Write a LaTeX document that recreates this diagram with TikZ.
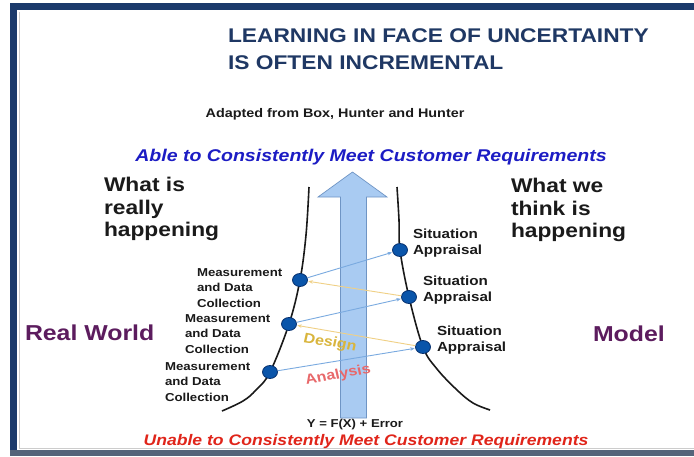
\documentclass[tikz,border=0pt]{standalone}
\usepackage{fontspec}
\setmainfont{Liberation Sans}
\usetikzlibrary{shapes.geometric,arrows.meta}
\definecolor{framenavy}{HTML}{1B3A6B}
\definecolor{framegray}{HTML}{55647A}
\definecolor{titleblue}{HTML}{1F3864}
\definecolor{ableblue}{HTML}{1C1CC4}
\definecolor{unablered}{HTML}{E0251A}
\definecolor{worldpurple}{HTML}{5C1C5E}
\definecolor{dotfill}{HTML}{0A55AA}
\definecolor{dotedge}{HTML}{06306E}
\definecolor{shaftfill}{HTML}{A9CBF2}
\definecolor{shaftedge}{HTML}{6F95C5}
\definecolor{linkblue}{HTML}{7AAAE0}
\definecolor{linkyellow}{HTML}{F0D085}
\definecolor{designgold}{HTML}{D9B53C}
\definecolor{analysisred}{HTML}{E8686A}
\definecolor{inktext}{HTML}{1A1A1A}
\tikzset{
  txt/.style={inner sep=0pt, outer sep=0pt, xscale=1.15, text=inktext},
  titletxt/.style={txt, font=\bfseries\fontsize{19.8}{24}\selectfont, text=titleblue, anchor=base west},
  bigtxt/.style={txt, font=\bfseries\fontsize{19.8}{22.7}\selectfont, align=left, anchor=west},
  worldtxt/.style={txt, font=\bfseries\fontsize{21.6}{26}\selectfont, text=worldpurple, anchor=base west},
  mdc/.style={txt, font=\bfseries\fontsize{11.5}{15.5}\selectfont, align=left, anchor=west},
  sit/.style={txt, font=\bfseries\fontsize{13.2}{16.5}\selectfont, align=left, anchor=west},
  dot/.style={ellipse, fill=dotfill, draw=dotedge, line width=0.8pt, minimum width=15pt, minimum height=13pt, inner sep=0pt},
  curveline/.style={line width=1.6pt, draw=inktext},
  bluelink/.style={draw=linkblue, line width=0.9pt, -{Stealth[length=4.5pt,width=3.5pt]}, shorten >=0.5pt},
  yellowlink/.style={draw=linkyellow, line width=0.9pt, -{Stealth[length=4.5pt,width=3.5pt]}, shorten >=0.5pt}
}
\begin{document}
\begin{tikzpicture}[x=1pt,y=-1pt]
\useasboundingbox (0,0) rectangle (694,456);
\fill[white] (0,0) rectangle (694,456);
\fill[framenavy] (10,3) rectangle (694,10);
\fill[framenavy] (10,3) rectangle (17,456);
\fill[framegray] (10,450) rectangle (694,456);
\draw[gray!40, line width=0.6pt] (19,12) -- (19,448) -- (694,448);

% title
\node[titletxt] (t1) at (228,42) {LEARNING IN FACE OF UNCERTAINTY};
\node[titletxt] (t2) at (228,69) {IS OFTEN INCREMENTAL};
\node[txt, font=\bfseries\fontsize{12.5}{15}\selectfont, anchor=base] (src) at (335,117.5) {Adapted from Box, Hunter and Hunter};
\node[txt, font=\bfseries\itshape\fontsize{17}{20}\selectfont, text=ableblue, anchor=base] (able) at (371,161) {Able to Consistently Meet Customer Requirements};
\node[txt, font=\bfseries\itshape\fontsize{15.3}{18}\selectfont, text=unablered, anchor=base] (unable) at (366,445.5) {Unable to Consistently Meet Customer Requirements};

\node[bigtxt] (real) at (104,209) {What is\\really\\happening};
\node[bigtxt] (think) at (511,210) {What we\\think is\\happening};
\node[worldtxt] (rw) at (25,340) {Real World};
\node[worldtxt] (model) at (593,341) {Model};

% big arrow
\draw[fill=shaftfill, draw=shaftedge, line width=0.7pt]
  (340.5,418) -- (340.5,197) -- (318,197) -- (352.5,172) -- (387,197) -- (366.5,197) -- (366.5,418) -- cycle;

% curves
\draw[curveline] plot[smooth, tension=0.6] coordinates {(309,187) (306,235) (300,280) (289,324) (270,372) (256,390) (243,401) (222,411)};
\draw[curveline] plot[smooth, tension=0.6] coordinates {(397,187) (399,220) (400,250) (409,297) (423,347) (437,369) (457,390) (473,403) (490,410)};

% dots
\node[dot] (L1) at (300,280) {};
\node[dot] (L2) at (289,324) {};
\node[dot] (L3) at (270,372) {};
\node[dot] (R1) at (400,250) {};
\node[dot] (R2) at (409,297) {};
\node[dot] (R3) at (423,347) {};

% links
\draw[bluelink] (L1) -- (R1);
\draw[bluelink] (L2) -- (R2);
\draw[bluelink] (L3) -- (R3);
\draw[yellowlink] (R2) -- (L1);
\draw[yellowlink] (R3) -- (L2);

% labels
\node[mdc] (m1) at (197,288) {Measurement\\and Data\\Collection};
\node[mdc] (m2) at (185,334) {Measurement\\and Data\\Collection};
\node[mdc] (m3) at (165,382) {Measurement\\and Data\\Collection};
\node[sit] (s1) at (413,243) {Situation\\Appraisal};
\node[sit] (s2) at (423,290) {Situation\\Appraisal};
\node[sit] (s3) at (437,340) {Situation\\Appraisal};

\node[txt, font=\bfseries\fontsize{14}{16}\selectfont, text=designgold, rotate=-11, xscale=1.0] (design) at (330,343) {Design};
\node[txt, font=\bfseries\fontsize{14}{16}\selectfont, text=analysisred, rotate=11, xscale=1.0] (analysis) at (338,375) {Analysis};
\node[txt, font=\bfseries\fontsize{11.4}{14}\selectfont, anchor=base] (eq) at (355,427) {Y = F(X) + Error};
\end{tikzpicture}
\end{document}
